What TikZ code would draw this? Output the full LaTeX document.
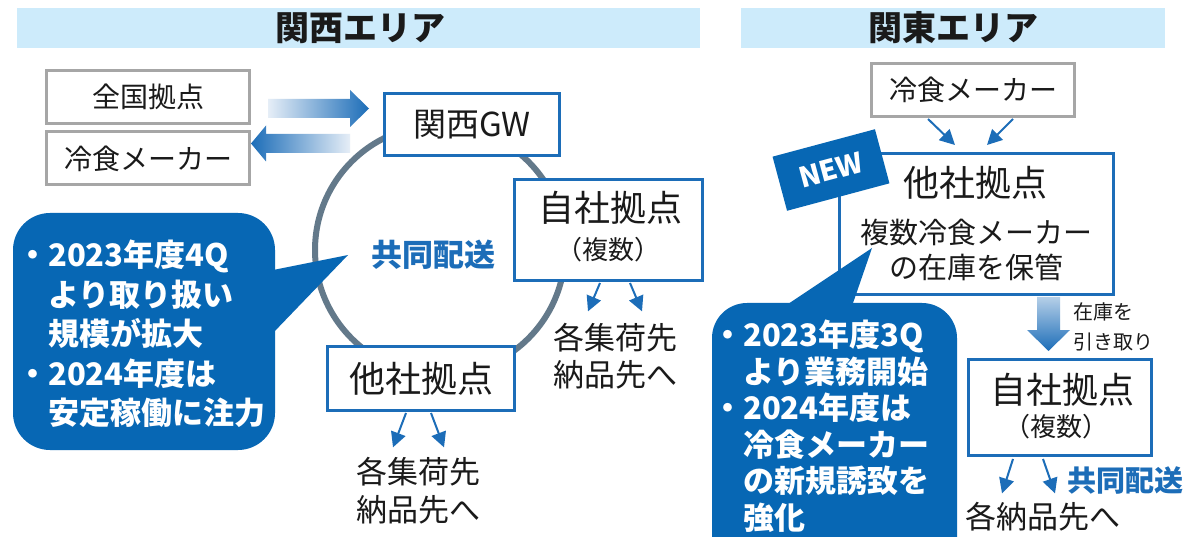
\documentclass[tikz,border=0pt]{standalone}
\usepackage{fontspec}
\setmainfont{Noto Sans CJK JP}
\usetikzlibrary{arrows.meta, calc}
\definecolor{bandblue}{HTML}{CDEBFB}
\definecolor{mainblue}{HTML}{1C6DB8}
\definecolor{bubbleblue}{HTML}{0767B4}
\definecolor{boxgray}{HTML}{A6A6A6}
\definecolor{ringgray}{HTML}{63798A}
\definecolor{fadeblue}{HTML}{E6EEF7}
\definecolor{inkgray}{HTML}{1A1A1A}

\begin{document}
\begin{tikzpicture}[x=1pt, y=-1pt,
    graybox/.style={draw=boxgray, line width=3pt, fill=white, minimum width=203pt, minimum height=53pt, inner sep=0pt, text=inkgray, font=\fontsize{28pt}{28pt}\selectfont},
    bluebox/.style={draw=mainblue, line width=3pt, fill=white, inner sep=0pt},
    jp/.style={font=\fontsize{#1pt}{#1pt}\selectfont, text=inkgray, inner sep=0pt},
    areatitle/.style={font=\bfseries\fontsize{34pt}{34pt}\selectfont, text=inkgray, inner sep=0pt},
    kyodo/.style={font=\bfseries\fontsize{#1pt}{#1pt}\selectfont, text=mainblue, inner sep=0pt},
    bubble/.style={fill=bubbleblue},
    bubbletext/.style={font=\bfseries\fontsize{31pt}{31pt}\selectfont, text=white, inner sep=0pt, anchor=base west},
    arrow/.style={-{Triangle[length=15pt, width=15pt]}, draw=mainblue, line width=2pt}
]

\clip (0,0) rectangle (1183,537);
\fill[white] (0,0) rectangle (1183,537);

% Area headers
\fill[bandblue] (17,8) rectangle (700,48);
\fill[bandblue] (741,8) rectangle (1165,48);
\node[areatitle] (kansai) at (360,28) {関西エリア};
\node[areatitle] (kanto) at (953,28) {関東エリア};

% Kansai: ring
\draw[ringgray, line width=6pt] (440,250) circle[radius=125pt];

% Kansai: in and out
\node[graybox] (zenkoku) at (148,97) {全国拠点};
\node[graybox] (maker1) at (148,158.5) {冷食メーカー};
\shade[left color=fadeblue, right color=mainblue] (268,99) -- (350,99) -- (350,90) -- (369,108.5) -- (350,127) -- (350,118) -- (268,118) -- cycle;
\shade[left color=mainblue, right color=fadeblue] (350,134) -- (266,134) -- (266,125.5) -- (251,143.5) -- (266,161.5) -- (266,153) -- (350,153) -- cycle;

% Kansai: sites
\node[bluebox, minimum width=175pt, minimum height=62pt, jp=33] (gw) at (472,124.5) {関西GW};
\node[bluebox, minimum width=188pt, minimum height=101pt] (jisha1) at (608.5,230) {};
\node[jp=36] (jisha1t) at (610,208) {自社拠点};
\node[jp=26] (jisha1n) at (608,250) {（複数）};
\node[bluebox, minimum width=187pt, minimum height=64pt, jp=36] (tasha1) at (421,378.5) {他社拠点};
\node[kyodo=31] (kyodo1) at (433,255) {共同配送};

% Kansai: delivery
\node[jp=31] (shuka1a) at (418,472) {各集荷先};
\node[jp=31] (shuka1b) at (418,510) {納品先へ};
\node[jp=31] (shuka2a) at (615,338) {各集荷先};
\node[jp=31] (shuka2b) at (615,375) {納品先へ};
\draw[arrow] ($(tasha1.south)+(-15,1)$) -- ($(shuka1a.north)+(-25,-10)$);
\draw[arrow] ($(tasha1.south)+(10,1)$) -- ($(shuka1a.north)+(26,-10)$);
\draw[arrow] ($(jisha1.south)+(-8.5,1)$) -- ($(shuka2a.north)+(-27,-12)$);
\draw[arrow] ($(jisha1.south)+(21.5,1)$) -- ($(shuka2a.north)+(27,-12)$);

% Kansai: note
\fill[bubble, rounded corners=37pt] (13,213) rectangle (275,450);
\fill[bubble] (273,270) -- (348,255) -- (273,333) -- cycle;
\foreach \txt [count=\i] in {{・2023年度4Q}, {\quad より取り扱い}, {\quad 規模が拡大}, {・2024年度は}, {\quad 安定稼働に注力}} {
    \node[bubbletext] (kansainote\i) at (17,{266.5+39.5*(\i-1)}) {\txt};
}

% Kanto: maker to new site
\node[graybox] (maker2) at (973,90) {冷食メーカー};
\node[bluebox, minimum width=274pt, minimum height=141pt] (tasha2) at (976.5,224) {};
\node[jp=36] (tasha2t) at (975,183) {他社拠点};
\node[jp=29] (tasha2a) at (976,233) {複数冷食メーカー};
\node[jp=29] (tasha2b) at (976,267) {の在庫を保管};
\draw[arrow] ($(maker2.south)+(-45,1)$) -- ($(tasha2.north)+(-21.5,-7)$);
\draw[arrow] ($(maker2.south)+(40,1)$) -- ($(tasha2.north)+(10.5,-7)$);
\node[fill=bubbleblue, rotate=15, minimum width=106pt, minimum height=56pt, inner sep=0pt, text=white, font=\bfseries\fontsize{28pt}{28pt}\selectfont] (newtag) at (831,170) {NEW};

% Kanto: pick up stock
\shade[top color=fadeblue!60!mainblue!70, bottom color=mainblue] (1037,297) -- (1060,297) -- (1060,330) -- (1070,330) -- (1048.5,351) -- (1027,330) -- (1037,330) -- cycle;
\node[jp=20, anchor=west] (zaiko) at (1073,312) {在庫を};
\node[jp=20, anchor=west] (hikitori) at (1073,342) {引き取り};

% Kanto: own sites
\node[bluebox, minimum width=183pt, minimum height=96pt] (jisha2) at (1060,407.5) {};
\node[jp=36] (jisha2t) at (1062,390) {自社拠点};
\node[jp=26] (jisha2n) at (1056,427) {（複数）};
\node[jp=31] (nohin) at (1043,517) {各納品先へ};
\node[kyodo=29] (kyodo2) at (1125,480) {共同配送};
\draw[arrow] ($(jisha2.south)+(-47,2)$) -- ($(nohin.north)+(-41,-9)$);
\draw[arrow] ($(jisha2.south)+(-17,2)$) -- ($(nohin.north)+(12,-9)$);

% Kanto: note
\fill[bubble, rounded corners=35pt] (712,303) rectangle (957,590);
\fill[bubble] (785,306) -- (872,248) -- (852,306) -- cycle;
\foreach \txt [count=\i] in {{・2023年度3Q}, {\quad より業務開始}, {・2024年度は}, {\quad 冷食メーカー}, {\quad の新規誘致を}, {\quad 強化}} {
    \node[bubbletext] (kantonote\i) at (712,{346.5+36.6*(\i-1)}) {\txt};
}

\end{tikzpicture}
\end{document}
